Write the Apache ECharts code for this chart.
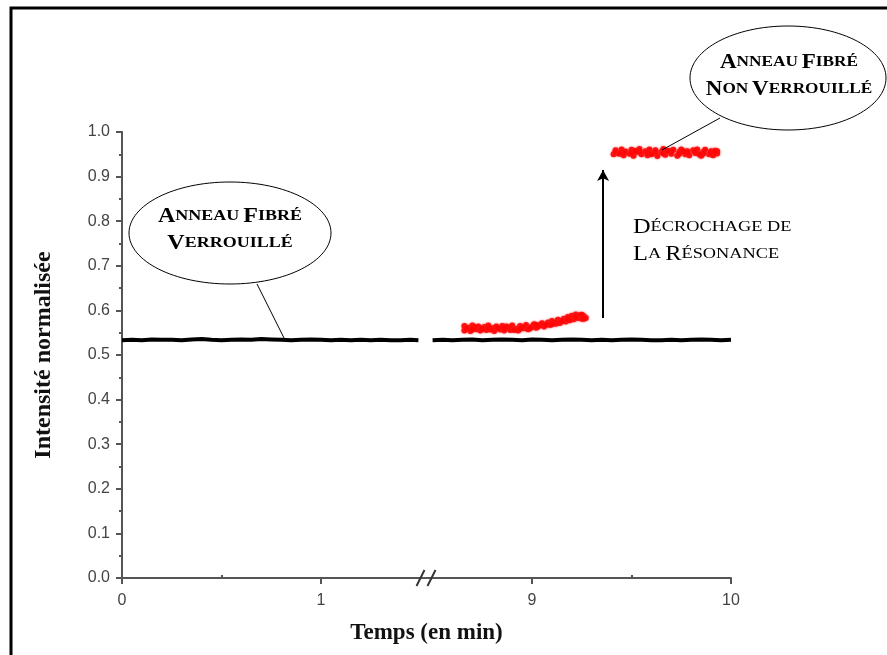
<!DOCTYPE html>
<html><head><meta charset="utf-8">
<script src="https://cdn.jsdelivr.net/npm/echarts@6/dist/echarts.min.js"></script>
<style>html,body{margin:0;padding:0;background:#fff}#c{width:887px;height:655px}</style>
</head><body><div id="c"></div>
<script>
// ---- data ----
const xTickLabels = [0, 1, 9, 10];
const xMinorTicks = [0.5, 9.5];
const yTickLabels = [0, 0.1, 0.2, 0.3, 0.4, 0.5, 0.6, 0.7, 0.8, 0.9, 1.0];
const axisBreak = [1.5, 8.5];

// locked ring (black line) : time (min), normalised intensity ; null = break
const lockedTime = [0,0.05,0.1,0.15,0.2,0.25,0.3,0.35,0.4,0.45,0.5,0.55,0.6,0.65,0.7,0.75,0.8,0.85,0.9,0.95,1.0,1.05,1.1,1.15,1.2,1.25,1.3,1.35,1.4,1.45,1.49,
  5,
  8.50,8.55,8.6,8.65,8.7,8.75,8.8,8.85,8.9,8.95,9.0,9.05,9.1,9.15,9.2,9.25,9.3,9.35,9.4,9.45,9.5,9.55,9.6,9.65,9.7,9.75,9.8,9.85,9.9,9.95,10.0];
const lockedIntensity = [0.533,0.534,0.533,0.535,0.534,0.534,0.533,0.535,0.536,0.534,0.533,0.534,0.535,0.534,0.536,0.535,0.534,0.533,0.534,0.535,0.534,0.533,0.534,0.533,0.534,0.533,0.534,0.533,0.533,0.534,0.533,
  null,
  0.533,0.534,0.533,0.534,0.535,0.533,0.534,0.535,0.534,0.533,0.535,0.534,0.533,0.534,0.535,0.534,0.533,0.534,0.533,0.534,0.535,0.534,0.533,0.533,0.534,0.533,0.534,0.535,0.534,0.533,0.534];

// unlocked ring before resonance loss (red points)
const unlockedLowTime = [8.66,8.66,8.68,8.69,8.70,8.72,8.73,8.74,8.76,8.77,8.78,8.80,8.81,8.82,8.84,8.85,8.86,8.88,8.89,8.90,8.92,8.93,8.94,8.96,8.97,8.98,9.00,9.01,9.02,9.04,9.05,9.06,9.08,9.09,9.10,9.12,9.13,9.14,9.16,9.17,9.18,9.19,9.20,9.21,9.22,9.23,9.24,9.25,9.26,9.27,
  8.67,8.71,8.75,8.79,8.83,8.87,8.91,8.95,8.99,9.03,9.07,9.11,9.15,9.19,9.22,9.25,8.70,8.78,8.86,8.94,9.02,9.10,9.18,9.26];
const unlockedLowIntensity = [0.555,0.565,0.561,0.554,0.566,0.558,0.564,0.555,0.563,0.556,0.566,0.560,0.554,0.564,0.557,0.565,0.555,0.562,0.556,0.566,0.559,0.555,0.565,0.560,0.567,0.558,0.564,0.569,0.561,0.567,0.571,0.564,0.573,0.567,0.576,0.570,0.579,0.572,0.581,0.575,0.585,0.578,0.588,0.580,0.591,0.583,0.589,0.581,0.587,0.583,
  0.559,0.562,0.559,0.557,0.560,0.564,0.556,0.562,0.560,0.564,0.568,0.573,0.576,0.583,0.585,0.590,0.557,0.561,0.560,0.559,0.567,0.569,0.580,0.581];

// unlocked ring after resonance loss
const unlockedHighTime = [9.41,9.42,9.43,9.45,9.46,9.47,9.49,9.50,9.51,9.53,9.54,9.55,9.57,9.58,9.59,9.61,9.62,9.63,9.65,9.66,9.67,9.69,9.70,9.71,9.73,9.74,9.75,9.77,9.78,9.79,9.81,9.82,9.83,9.85,9.86,9.87,9.89,9.90,9.91,9.92,9.93,
  9.42,9.46,9.50,9.54,9.58,9.62,9.66,9.70,9.74,9.78,9.82,9.86,9.90,9.93,9.44,9.52,9.60,9.68,9.76,9.84,9.92];
const unlockedHighIntensity = [0.950,0.959,0.953,0.961,0.948,0.956,0.951,0.960,0.947,0.955,0.962,0.950,0.957,0.948,0.961,0.953,0.959,0.946,0.955,0.962,0.949,0.957,0.951,0.960,0.947,0.955,0.961,0.950,0.957,0.948,0.959,0.953,0.961,0.947,0.955,0.960,0.950,0.957,0.948,0.958,0.952,
  0.955,0.953,0.954,0.956,0.953,0.955,0.952,0.956,0.951,0.954,0.956,0.951,0.954,0.957,0.951,0.958,0.950,0.958,0.957,0.950,0.955];

// arrow: resonance loss
const arrowTime = [9.357, 9.357];
const arrowIntensity = [0.583, 0.915];

// ---- chart ----
const zip = (a, b) => a.map((v, i) => [v, b[i]]);
const chart = echarts.init(document.getElementById('c'));
const axisCol = '#555';
const labelFont = { color: '#444', fontFamily: 'Liberation Sans, Arial', fontSize: 16 };
const nameFont = { fontFamily: 'Liberation Serif, Times New Roman', fontWeight: 'bold', color: '#111' };

const xAxisCommon = {
  type: 'value', min: 0, max: 10,
  breaks: [{ start: axisBreak[0], end: axisBreak[1], gap: '2%' }],
  breakArea: { show: false },
  splitLine: { show: false }
};

chart.setOption({
  animation: false,
  backgroundColor: '#fff',
  grid: { left: 122, right: 156, top: 132, bottom: 77, containLabel: false },
  xAxis: [
    Object.assign({}, xAxisCommon, {
      name: 'Temps (en min)', nameLocation: 'middle', nameGap: 44,
      nameTextStyle: Object.assign({ fontSize: 23 }, nameFont),
      axisLine: { show: true, onZero: false, lineStyle: { color: axisCol, width: 2 } },
      axisTick: { show: true, length: 6, lineStyle: { color: axisCol, width: 2 }, customValues: xTickLabels },
      axisLabel: Object.assign({ margin: 15, customValues: xTickLabels, formatter: v => String(v) }, labelFont)
    }),
    Object.assign({}, xAxisCommon, {
      axisLine: { show: false },
      axisTick: { show: true, length: 3, lineStyle: { color: axisCol, width: 2 }, customValues: xMinorTicks },
      axisLabel: { show: false }
    })
  ],
  yAxis: {
    type: 'value', min: 0, max: 1, interval: 0.1,
    name: 'Intensité normalisée', nameLocation: 'middle', nameGap: 66,
    nameTextStyle: Object.assign({ fontSize: 24 }, nameFont),
    axisLine: { show: true, lineStyle: { color: axisCol, width: 2 } },
    axisTick: { show: true, length: 6, lineStyle: { color: axisCol, width: 2 } },
    minorTick: { show: true, splitNumber: 2, length: 3, lineStyle: { color: axisCol, width: 2 } },
    splitLine: { show: false },
    axisLabel: Object.assign({ margin: 12, formatter: v => v.toFixed(1) }, labelFont)
  },
  series: [
    {
      name: 'Anneau fibré verrouillé', type: 'line', data: zip(lockedTime, lockedIntensity),
      showSymbol: false, connectNulls: false, smooth: false,
      lineStyle: { color: '#000', width: 4 }, z: 3
    },
    {
      name: 'Anneau fibré non verrouillé', type: 'scatter', data: zip(unlockedLowTime, unlockedLowIntensity),
      symbol: 'circle', symbolSize: 6, itemStyle: { color: '#ff0000', opacity: 0.85, shadowBlur: 2, shadowColor: '#ff3030' }, z: 4
    },
    {
      name: 'Anneau fibré non verrouillé (décroché)', type: 'scatter', data: zip(unlockedHighTime, unlockedHighIntensity),
      symbol: 'circle', symbolSize: 6, itemStyle: { color: '#ff0000', opacity: 0.85, shadowBlur: 2, shadowColor: '#ff3030' }, z: 4,
      markLine: {
        silent: true, symbol: ['none', 'arrow'], symbolSize: [9, 11], label: { show: false },
        lineStyle: { color: '#000', width: 2, type: 'solid' },
        data: [[{ coord: [arrowTime[0], arrowIntensity[0]] }, { coord: [arrowTime[1], arrowIntensity[1]] }]]
      }
    }
  ]
});

// ---- decorations ----
const pA = chart.convertToPixel({ xAxisIndex: 0, yAxisIndex: 0 }, [axisBreak[0], 0]);
const pB = chart.convertToPixel({ xAxisIndex: 0, yAxisIndex: 0 }, [axisBreak[1], 0]);
const bx = (pA[0] + pB[0]) / 2, by = pA[1];

const sc = (bigSize, smallSize, weight) => ({
  big: { fontFamily: 'Liberation Serif, Times New Roman', fontSize: bigSize, fontWeight: weight, fill: '#000', lineHeight: 27 },
  small: { fontFamily: 'Liberation Serif, Times New Roman', fontSize: smallSize, fontWeight: weight, fill: '#000', lineHeight: 27 }
});

chart.setOption({
  graphic: [
    { type: 'polyline', shape: { points: [[11, 655], [11, 8], [887, 8]] }, style: { stroke: '#000', lineWidth: 3, fill: null } },
    // continuous axis line through the break + break mark
    { type: 'line', shape: { x1: pA[0] - 2, y1: by, x2: pB[0] + 2, y2: by }, style: { stroke: axisCol, lineWidth: 2 }, z: 9 },
    { type: 'line', shape: { x1: bx - 10, y1: by + 8, x2: bx - 2, y2: by - 8 }, style: { stroke: '#333', lineWidth: 2 }, z: 10 },
    { type: 'line', shape: { x1: bx + 1, y1: by + 8, x2: bx + 9, y2: by - 8 }, style: { stroke: '#333', lineWidth: 2 }, z: 10 },
    // left callout
    { type: 'line', shape: { x1: 257, y1: 284, x2: 286, y2: 342 }, style: { stroke: '#000', lineWidth: 1 }, z: 10 },
    { type: 'ellipse', shape: { cx: 230, cy: 233, rx: 101, ry: 51 }, style: { fill: '#fff', stroke: '#000', lineWidth: 1 }, z: 11 },
    { type: 'text', x: 230, y: 230, scaleX: 1.2, z: 12,
      style: { text: '{big|A}{small|NNEAU} {big|F}{small|IBRÉ}\n{big|V}{small|ERROUILLÉ}', align: 'center', verticalAlign: 'middle',
        rich: sc(20, 15, 'bold') } },
    // right callout
    { type: 'line', shape: { x1: 720, y1: 118, x2: 662, y2: 150 }, style: { stroke: '#000', lineWidth: 1 }, z: 10 },
    { type: 'ellipse', shape: { cx: 788, cy: 78, rx: 98, ry: 52 }, style: { fill: '#fff', stroke: '#000', lineWidth: 1 }, z: 11 },
    { type: 'text', x: 789, y: 76, scaleX: 1.15, z: 12,
      style: { text: '{big|A}{small|NNEAU} {big|F}{small|IBRÉ}\n{big|N}{small|ON} {big|V}{small|ERROUILLÉ}', align: 'center', verticalAlign: 'middle',
        rich: sc(20, 15, 'bold') } },
    // arrow label
    { type: 'text', x: 633, y: 241, scaleX: 1.22, z: 12,
      style: { text: '{big|D}{small|ÉCROCHAGE DE}\n{big|L}{small|A} {big|R}{small|ÉSONANCE}', align: 'left', verticalAlign: 'middle',
        rich: sc(20, 15, 'normal') } }
  ]
});
</script>
</body></html>
